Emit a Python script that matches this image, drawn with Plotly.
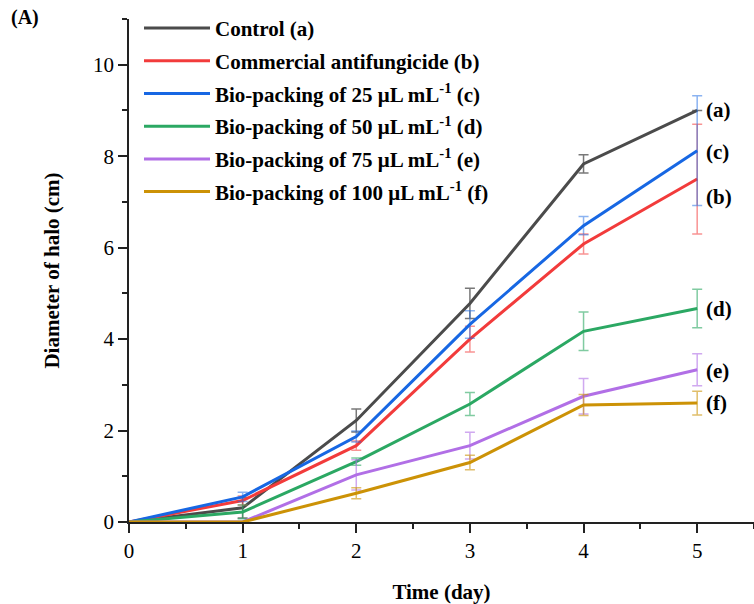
import plotly.graph_objects as go

days = [0, 1, 2, 3, 4, 5]

names = [
    "Control (a)",
    "Commercial antifungicide (b)",
    "Bio-packing of 25 μL mL<sup>-1</sup> (c)",
    "Bio-packing of 50 μL mL<sup>-1</sup> (d)",
    "Bio-packing of 75 μL mL<sup>-1</sup> (e)",
    "Bio-packing of 100 μL mL<sup>-1</sup> (f)",
]

control = [0, 0.31, 2.22, 4.78, 7.83, 9.00]
control_err = [None, 0.22, 0.25, 0.33, 0.20, None]

commercial = [0, 0.47, 1.67, 4.00, 6.08, 7.50]
commercial_err = [None, 0.10, 0.10, 0.28, 0.22, 1.20]

bio25 = [0, 0.55, 1.87, 4.32, 6.48, 8.12]
bio25_err = [None, 0.10, 0.12, 0.30, 0.20, 1.20]

bio50 = [0, 0.22, 1.32, 2.58, 4.17, 4.67]
bio50_err = [None, 0.15, 0.08, 0.25, 0.42, 0.42]

bio75 = [0, 0.00, 1.03, 1.67, 2.75, 3.33]
bio75_err = [None, None, 0.33, 0.29, 0.39, 0.35]

bio100 = [0, 0.00, 0.63, 1.30, 2.56, 2.60]
bio100_err = [None, None, 0.12, 0.16, 0.23, 0.26]

end_labels = ["(a)", "(b)", "(c)", "(d)", "(e)", "(f)"]
end_label_y = [9.00, 7.10, 8.10, 4.65, 3.30, 2.60]

series = [control, commercial, bio25, bio50, bio75, bio100]
errors = [control_err, commercial_err, bio25_err, bio50_err, bio75_err, bio100_err]
colors = ["#4b4b4b", "#f23b3b", "#1767e3", "#2ba863", "#b16fe6", "#cc9206"]
err_colors = ["rgba(75,75,75,0.75)", "rgba(242,59,59,0.55)", "rgba(23,103,227,0.5)",
              "rgba(43,168,99,0.6)", "rgba(177,111,230,0.6)", "rgba(204,146,6,0.6)"]

FONT = "Liberation Serif"

fig = go.Figure()
for i in range(len(series)):
    fig.add_trace(go.Scatter(
        x=days, y=series[i], mode="lines", name="<b>" + names[i] + "</b>",
        legendgroup="g%d" % i,
        line=dict(color=colors[i], width=3),
        error_y=dict(type="data", array=errors[i], visible=True,
                     color=err_colors[i], thickness=1.5, width=5),
    ))

for lab, yv in zip(end_labels, end_label_y):
    fig.add_annotation(x=5, y=yv, text="<b>%s</b>" % lab, showarrow=False,
                       xanchor="left", yanchor="middle", xshift=7,
                       font=dict(family=FONT, size=21, color="black"))

fig.add_annotation(x=0, y=1, xref="paper", yref="paper", text="<b>(A)</b>",
                   showarrow=False, xanchor="left", yanchor="middle",
                   xshift=-120, yshift=2,
                   font=dict(family=FONT, size=20, color="black"))

axis_common = dict(
    showline=True, linecolor="#222", linewidth=1.8, mirror=False,
    ticks="outside", ticklen=9, tickwidth=1.8, tickcolor="#222",
    showgrid=False, zeroline=False,
    tickfont=dict(family=FONT, size=21, color="black"),
)

fig.update_xaxes(range=[0, 5.5], tickvals=days,
                 minor=dict(dtick=0.5, tick0=0, ticks="outside", ticklen=5,
                            tickwidth=1.8, tickcolor="#222", showgrid=False),
                 title=dict(text="<b>Time (day)</b>", standoff=26,
                            font=dict(family=FONT, size=21, color="black")),
                 **axis_common)
fig.update_yaxes(range=[0, 11], tickvals=[0, 2, 4, 6, 8, 10],
                 minor=dict(dtick=1, tick0=0, ticks="outside", ticklen=5,
                            tickwidth=1.8, tickcolor="#222", showgrid=False),
                 title=dict(text="<b>Diameter of halo (cm)</b>", standoff=28,
                            font=dict(family=FONT, size=21, color="black")),
                 **axis_common)

fig.update_layout(
    width=754, height=604,
    margin=dict(l=129, r=0, t=19, b=82, autoexpand=False),
    plot_bgcolor="white", paper_bgcolor="white",
    showlegend=True,
    legend=dict(x=0.016, y=1.022, xanchor="left", yanchor="top",
                bgcolor="rgba(0,0,0,0)", borderwidth=0,
                tracegroupgap=2.4, itemwidth=66,
                font=dict(family=FONT, size=21, color="black")),
    font=dict(family=FONT, color="black"),
)

fig.write_html("out.html",
               config={"displayModeBar": False},
               post_script="document.body.style.margin='0';document.body.style.padding='0';")
